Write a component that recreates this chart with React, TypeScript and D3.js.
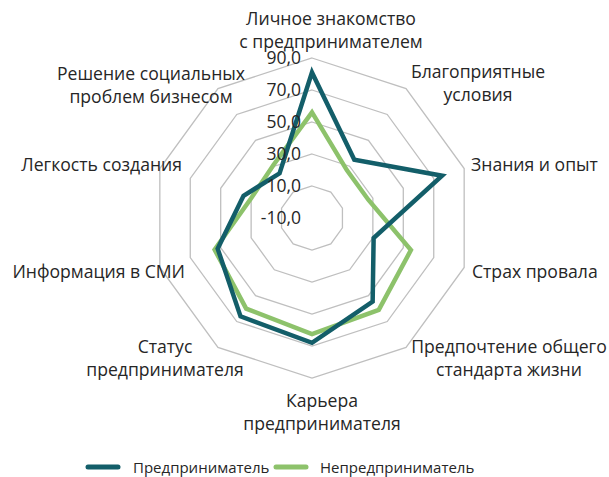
import React from 'react';
import {scaleLinear, lineRadial, curveLinearClosed} from 'd3';

// axes go clockwise from the top, like the source radar chart
const categories = [
    ['Личное знакомство', 'с предпринимателем'],
    ['Благоприятные', 'условия'],
    ['Знания и опыт'],
    ['Страх провала'],
    ['Предпочтение общего', 'стандарта жизни'],
    ['Карьера', 'предпринимателя'],
    ['Статус', 'предпринимателя'],
    ['Информация в СМИ'],
    ['Легкость создания'],
    ['Решение социальных', 'проблем бизнесом'],
];
const entrepreneur = [81, 35, 75.5, 30.5, 54.5, 68, 66, 52, 35, 24.5];
const nonEntrepreneur = [56, 27, 27, 55, 61, 62.5, 60, 54, 30, 31];
const ticks = [-10, 10, 30, 50, 70, 90];
const seriesNames = ['Предприниматель', 'Непредприниматель'];

// label anchor points (x, first baseline, anchor) per axis
const labelPos: [number, number, string][] = [
    [331, 24.5, 'middle'],
    [478, 78, 'middle'],
    [471, 171, 'start'],
    [472, 278, 'start'],
    [509, 353, 'middle'],
    [322, 407, 'middle'],
    [165, 353, 'middle'],
    [185, 278, 'end'],
    [182, 171, 'end'],
    [151, 80, 'middle'],
];

const spec = {width: 609, height: 477, cx: 312, cy: 218, radius: 160};
const colors = ['#135e69', '#8dc26b'];

const App = () => {
    let {width, height, cx, cy, radius} = spec;
    let n = categories.length;
    let rScale = scaleLinear().domain([-10, 90]).range([0, radius]);
    let angle = (i: number) => i * 2 * Math.PI / n;

    let ring = (v: number) => lineRadial<number>()
        .angle((d, i) => angle(i))
        .radius(() => rScale(v))
        .curve(curveLinearClosed)(categories.map(() => v));

    let l = lineRadial<number>()
        .angle((d, i) => angle(i))
        .radius(d => rScale(d))
        .curve(curveLinearClosed);

    let fontFamily = '"Open Sans", "Noto Sans", sans-serif';
    let textColor = '#262626';

    return (
        <svg width={width} height={height} style={{position: 'absolute', left: 0, top: 0, background: '#fff'}}
             fontFamily={fontFamily}>
            <g transform={`translate(${cx},${cy})`}>
                {ticks.slice(1).map(t =>
                    <path key={t} d={ring(t) || ''} fill="none" stroke="#bfbfbf" strokeWidth={1.3}/>
                )}
                {[nonEntrepreneur, entrepreneur].map((s, i) =>
                    <path key={i} d={l(s) || ''} fill="none" stroke={i === 0 ? colors[1] : colors[0]}
                          strokeWidth={4.5} strokeLinejoin="miter"/>
                )}
                {ticks.map(t =>
                    <text key={t} x={-11} y={-rScale(t)} dy="0.36em" textAnchor="end" fontSize={17.5}
                          fill={textColor}>{t.toFixed(1).replace('.', ',')}</text>
                )}
            </g>
            {categories.map((c, i) => {
                let [x, y, anchor] = labelPos[i];
                return <text key={i} x={x} y={y} textAnchor={anchor as any} fontSize={17.6} fill={textColor}>
                    {c.map((line, j) => <tspan key={j} x={x} dy={j === 0 ? 0 : 23}>{line}</tspan>)}
                </text>;
            })}
            <g transform="translate(0,467)">
                <line x1={88} x2={118} y1={0} y2={0} stroke={colors[0]} strokeWidth={5} strokeLinecap="round"/>
                <text x={133} y={5.5} fontSize={15} fill={textColor}>{seriesNames[0]}</text>
                <line x1={276} x2={306} y1={0} y2={0} stroke={colors[1]} strokeWidth={5} strokeLinecap="round"/>
                <text x={320} y={5.5} fontSize={15} fill={textColor}>{seriesNames[1]}</text>
            </g>
        </svg>
    );
};

export default App;
